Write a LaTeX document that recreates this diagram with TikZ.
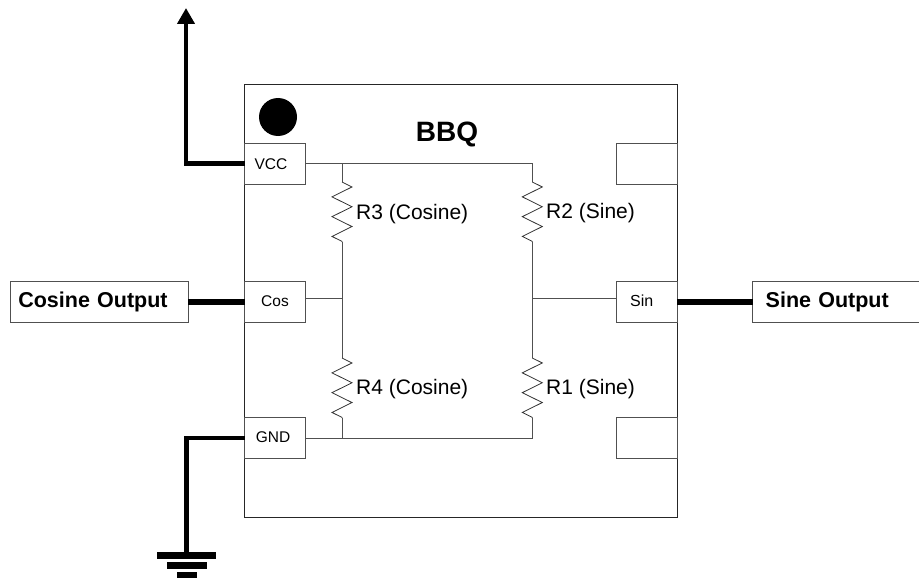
\documentclass[tikz,border=0pt]{standalone}
\usepackage{xcolor}
\usepackage{fontspec}
\setmainfont{Liberation Sans}
\usetikzlibrary{arrows.meta,decorations.pathmorphing}
\definecolor{wiregray}{RGB}{80,80,80}
\tikzset{
  pinbox/.style={draw=wiregray, line width=1pt, rectangle, inner sep=0pt, outer sep=0pt, minimum width=60.6pt, minimum height=40.6pt, font=\fontsize{15.5}{18}\selectfont},
  outbox/.style={draw=wiregray, line width=1pt, rectangle, anchor=west, align=left, inner ysep=0pt, outer sep=0pt, minimum height=40.6pt, font=\fontsize{21.5}{25}\selectfont\bfseries},
  rlabel/.style={anchor=west, inner sep=0pt, font=\fontsize{21}{25}\selectfont},
  bar/.style={fill=black, rectangle, inner sep=0pt, minimum height=7pt},
  wire/.style={draw=wiregray, line width=1pt},
  fatwire/.style={draw=black, line width=4.7pt},
  outwire/.style={draw=black, line width=6.5pt},
  resistor/.style={draw=black!80, line width=0.8pt, decorate, decoration={zigzag, amplitude=10pt, segment length=19.8pt}}
}
\begin{document}
\begin{tikzpicture}[x=1pt, y=-1pt]
  \useasboundingbox (0,0) rectangle (919,578);
  \clip (0,0) rectangle (919,578);

  \node[draw=black!85, line width=1pt, rectangle, inner sep=0pt, outer sep=0pt, minimum width=432.3pt, minimum height=432.3pt] (chip) at (460.85,300.85) {};
  \node[fill=black, circle, inner sep=0pt, minimum size=38pt] (dot) at (278,117) {};
  \node[inner sep=0pt, font=\fontsize{28}{32}\selectfont\bfseries] (title) at (447,134) {BBQ};

  \node[pinbox] (vcc) at (275,163.7) {\hspace*{-8pt}VCC};
  \node[pinbox] (cosine) at (275,302) {\raisebox{2pt}{Cos}};
  \node[pinbox] (gnd) at (275,438) {\hspace*{-4pt}\raisebox{2pt}{GND}};
  \node[pinbox] (pad1) at (646.7,163.7) {};
  \node[pinbox, font=\fontsize{16}{18}\selectfont] (sine) at (646.7,302) {\hspace*{-10pt}\raisebox{3pt}{Sin}};
  \node[pinbox] (pad2) at (646.7,438) {};

  \node[outbox, text width=162.4pt, inner xsep=7.6pt] (cosout) at (10.7,302) {\raisebox{-1pt}{Cosine Output}};
  \node[outbox, text width=155pt, inner xsep=13pt] (sinout) at (752.7,302) {\raisebox{-1pt}{Sine Output}};

  % junctions on the two resistor legs
  \coordinate (r3in) at (342,163.7);
  \coordinate (r3a) at (342,182);
  \coordinate (r3b) at (342,242);
  \coordinate (cosmid) at (342,298);
  \coordinate (r4a) at (342,358);
  \coordinate (r4b) at (342,418);
  \coordinate (r4out) at (342,438);
  \coordinate (r2in) at (532.3,163.7);
  \coordinate (r2a) at (532.3,182);
  \coordinate (r2b) at (532.3,242);
  \coordinate (sinmid) at (532.3,298);
  \coordinate (r1a) at (532.3,358);
  \coordinate (r1b) at (532.3,418);
  \coordinate (r1out) at (532.3,438);

  \draw[wire] (vcc.east) -- (r2in) -- (r2a);
  \draw[wire] (r3in) -- (r3a);
  \draw[wire] (r3b) -- (r4a);
  \draw[wire] (r2b) -- (r1a);
  \draw[wire] (gnd.east) -- (r1out) -- (r1b);
  \draw[wire] (r4out) -- (r4b);
  \draw[wire] (cosine.east |- cosmid) -- (cosmid);
  \draw[wire] (sinmid) -- (sine.west |- sinmid);

  \draw[resistor] (r3a) -- (r3b);
  \draw[resistor] (r4a) -- (r4b);
  \draw[resistor] (r2a) -- (r2b);
  \draw[resistor] (r1a) -- (r1b);

  \node[rlabel] (r3) at (356,214.5) {R3 (Cosine)};
  \node[rlabel] (r4) at (356,389) {R4 (Cosine)};
  \node[rlabel] (r2) at (546,213) {R2 (Sine)};
  \node[rlabel] (r1) at (546,389) {R1 (Sine)};

  % thick outside connections
  \coordinate (vcctip) at (186,8);
  \draw[fatwire, -{Triangle[width=17pt,length=16pt]}] (vcc.west) -| (vcctip);
  \node[bar, minimum width=59pt] (gbar1) at (186.5,555.5) {};
  \node[bar, minimum width=40pt] (gbar2) at (186.5,565.5) {};
  \node[bar, minimum width=20pt] (gbar3) at (186.5,575.5) {};
  \draw[fatwire] (gnd.west) -| (gbar1.north);
  \draw[outwire] (cosout.east) -- (cosine.west);
  \draw[outwire] (sine.east) -- (sinout.west);
\end{tikzpicture}
\end{document}
